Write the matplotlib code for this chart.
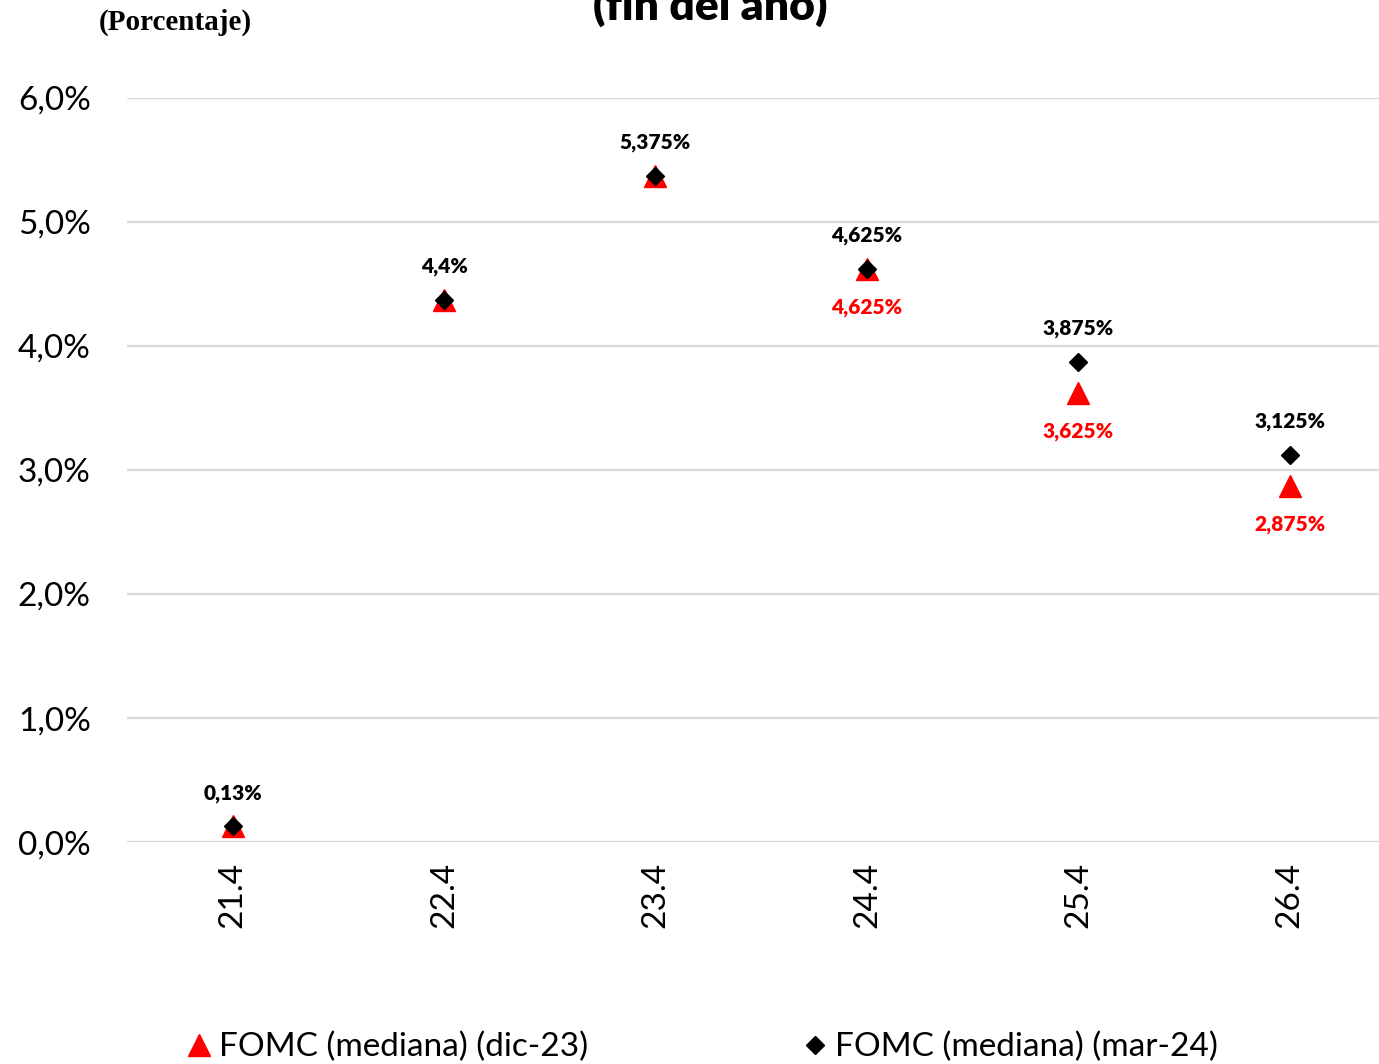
import matplotlib.pyplot as plt
from matplotlib.lines import Line2D

# ---------------------------------------------------------------------------
# Data: FOMC median projections of the policy rate (end of year)
# ---------------------------------------------------------------------------
categories = ["21.4", "22.4", "23.4", "24.4", "25.4", "26.4"]
dic23 = [0.13, 4.375, 5.375, 4.625, 3.625, 2.875]
mar24 = [0.13, 4.375, 5.375, 4.625, 3.875, 3.125]
mar24_labels = ["0,13%", "4,4%", "5,375%", "4,625%", "3,875%", "3,125%"]
dic23_labels = [None, None, None, "4,625%", "3,625%", "2,875%"]
yticks = [0, 1, 2, 3, 4, 5, 6]
ytick_labels = ["0,0%", "1,0%", "2,0%", "3,0%", "4,0%", "5,0%", "6,0%"]

FONT = "Lato"
RED = "#ff0000"

fig = plt.figure(figsize=(13.79, 10.64), dpi=100)
ax = fig.add_axes([0.092, 0.2086, 0.92, 0.6993])

x = list(range(len(categories)))
ax.plot(x, dic23, linestyle="none", marker="^", markersize=16,
        color=RED, zorder=3)
ax.plot(x, mar24, linestyle="none", marker="D", markersize=9,
        color="black", zorder=4)

# data labels: mar-24 above the diamonds, dic-23 below the triangles
for xi, v, lab in zip(x, mar24, mar24_labels):
    ax.annotate(lab, (xi, v), xytext=(0, 23.5), textcoords="offset points",
                ha="center", va="center", fontsize=15, fontweight="heavy",
                family=FONT, color="black")
for xi, v, lab in zip(x, dic23, dic23_labels):
    if lab:
        ax.annotate(lab, (xi, v), xytext=(0, -28), textcoords="offset points",
                    ha="center", va="center", fontsize=15, fontweight="heavy",
                    family=FONT, color=RED)

ax.set_xlim(-0.5, 5.5)
ax.set_ylim(0, 6)
ax.set_yticks(yticks)
ax.set_yticklabels(ytick_labels, family=FONT, fontsize=24)
ax.set_xticks(x)
ax.set_xticklabels(categories, rotation=90, family=FONT, fontsize=24)
ax.tick_params(length=0, pad=14)
ax.tick_params(axis="y", pad=26)
ax.grid(axis="y", color="#d9d9d9", linewidth=1.6)
ax.set_axisbelow(True)
for s in ax.spines.values():
    s.set_visible(False)

fig.text(0.127, 1 - 22 / 1064, "(Porcentaje)", family="Liberation Serif",
         fontweight="bold", fontsize=21, ha="center", va="center")
fig.text(0.515, 1 - 20 / 1064, "(fin del año)", family=FONT,
         fontweight="heavy", fontsize=32, ha="center", va="baseline")

handles = [
    Line2D([], [], linestyle="none", marker="^", markersize=16, color=RED),
    Line2D([], [], linestyle="none", marker="D", markersize=9, color="black"),
]
fig.legend(handles, ["FOMC (mediana) (dic-23)", "FOMC (mediana) (mar-24)"],
           ncol=2, loc="center", bbox_to_anchor=(0.51, 1 - 1047 / 1064),
           frameon=False, prop={"family": FONT, "size": 24},
           handlelength=0.6, handletextpad=0.3, columnspacing=6.5)

fig.savefig("out.png", dpi=100)
